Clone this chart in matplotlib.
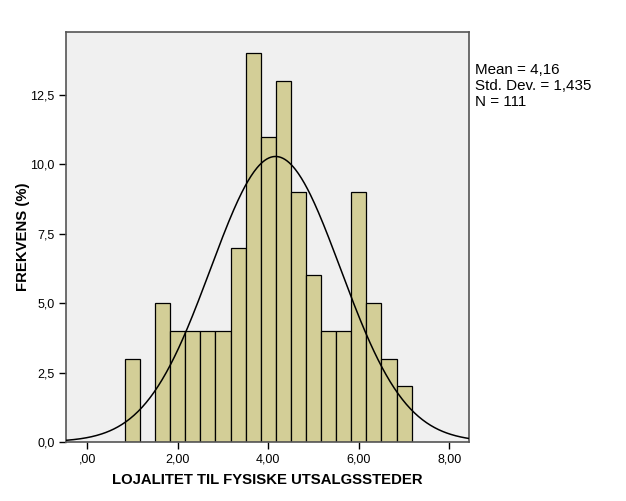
import numpy as np
import matplotlib
matplotlib.use("Agg")
import matplotlib.pyplot as plt
from matplotlib.ticker import FuncFormatter

# histogram bins (width 1/3), counts
bin_left = [0.8333, 1.1667, 1.5, 1.8333, 2.1667, 2.5, 2.8333, 3.1667, 3.5, 3.8333,
            4.1667, 4.5, 4.8333, 5.1667, 5.5, 5.8333, 6.1667, 6.5, 6.8333]
counts = [3, 0, 5, 4, 4, 4, 4, 7, 14, 11, 13, 9, 6, 4, 4, 9, 5, 3, 2]
bin_width = 1 / 3

mean = 4.16
sd = 1.435
n = 111

plt.rcParams['font.family'] = ['Liberation Sans', 'DejaVu Sans']

fig = plt.figure(figsize=(6.26, 5.01), dpi=100)
ax = fig.add_axes([0.106, 0.118, 0.643, 0.818])
ax.set_facecolor('#f0f0f0')

ax.bar(bin_left, counts, width=bin_width, align='edge',
       color='#d3ce97', edgecolor='black', linewidth=0.9, zorder=2)

# normal curve scaled to counts
xs = np.linspace(-0.46, 8.43, 400)
ys = n * bin_width * np.exp(-0.5 * ((xs - mean) / sd) ** 2) / (sd * np.sqrt(2 * np.pi))
ax.plot(xs, ys, color='black', linewidth=1.1, zorder=3)

ax.set_xlim(-0.46, 8.43)
ax.set_ylim(0, 14.77)
ax.set_xticks([0, 2, 4, 6, 8])
ax.set_yticks([0, 2.5, 5, 7.5, 10, 12.5])

def xfmt(v, pos):
    s = f"{v:.2f}".replace('.', ',')
    return s[1:] if s.startswith('0') else s

ax.xaxis.set_major_formatter(FuncFormatter(xfmt))
ax.yaxis.set_major_formatter(FuncFormatter(lambda v, p: f"{v:.1f}".replace('.', ',')))
ax.tick_params(direction='out', length=5, width=1, labelsize=9, color='black')

for s in ax.spines.values():
    s.set_color('#555555')
    s.set_linewidth(1.2)

ax.set_xlabel('LOJALITET TIL FYSISKE UTSALGSSTEDER', fontsize=10.7,
              fontweight='bold', labelpad=5)
ax.set_ylabel('FREKVENS (%)', fontsize=10.7, fontweight='bold', labelpad=0)

stats = ("Mean = " + f"{mean:.2f}".replace('.', ',') + "\n"
         + "Std. Dev. = " + f"{sd:.3f}".replace('.', ',') + "\n"
         + f"N = {n}")
fig.text(0.758, 0.874, stats, fontsize=10.9, va='top', ha='left', linespacing=1.17)

fig.savefig('out.png', dpi=100)
